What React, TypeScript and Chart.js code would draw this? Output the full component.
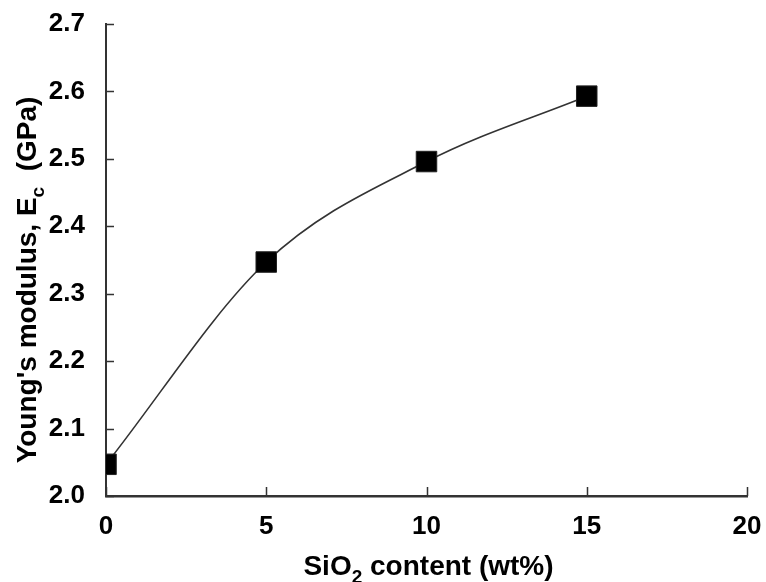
import React, { useEffect, useRef } from "react";
import { Chart, registerables } from "chart.js";

Chart.register(...registerables);

const siO2Content = [0, 5, 10, 15];
const youngsModulus = [2.047, 2.347, 2.496, 2.593];
const xTickValues = [0, 5, 10, 15, 20];
const yTickValues = [2.0, 2.1, 2.2, 2.3, 2.4, 2.5, 2.6, 2.7];
const xTitle = [
  { text: "SiO", sub: false },
  { text: "2", sub: true },
  { text: " content (wt%)", sub: false },
];
const yTitle = [
  { text: "Young's modulus, E", sub: false },
  { text: "c", sub: true },
  { text: "  (GPa)", sub: false },
];

const FONT_FAMILY = '"Liberation Sans", Arial, sans-serif';
const AXIS_COLOR = "#333";

type Seg = { text: string; sub: boolean };

function drawRich(ctx: CanvasRenderingContext2D, segs: Seg[], size: number) {
  const main = `bold ${size}px ${FONT_FAMILY}`;
  const small = `bold ${Math.round(size * 0.68)}px ${FONT_FAMILY}`;
  let total = 0;
  for (const s of segs) {
    ctx.font = s.sub ? small : main;
    total += ctx.measureText(s.text).width;
  }
  let x = -total / 2;
  ctx.textAlign = "left";
  ctx.textBaseline = "alphabetic";
  ctx.fillStyle = "#000";
  for (const s of segs) {
    ctx.font = s.sub ? small : main;
    ctx.fillText(s.text, x, s.sub ? size * 0.28 : 0);
    x += ctx.measureText(s.text).width;
  }
}

const decorPlugin = {
  id: "decor",
  afterDraw(chart: any) {
    const { ctx, chartArea, scales } = chart;
    const { left, right, bottom } = chartArea;
    ctx.save();
    ctx.strokeStyle = AXIS_COLOR;
    ctx.lineWidth = 1.5;
    ctx.beginPath();
    for (const v of yTickValues) {
      const y = Math.round(scales.y.getPixelForValue(v)) + 0.5;
      ctx.moveTo(left, y);
      ctx.lineTo(left + 8, y);
    }
    for (const v of xTickValues) {
      const x = Math.round(scales.x.getPixelForValue(v)) + 0.5;
      ctx.moveTo(x, bottom);
      ctx.lineTo(x, bottom - 9);
    }
    ctx.stroke();

    ctx.save();
    ctx.translate((left + right) / 2 + 2, 575);
    drawRich(ctx, xTitle, 28);
    ctx.restore();

    ctx.save();
    ctx.translate(36, 280);
    ctx.rotate(-Math.PI / 2);
    drawRich(ctx, yTitle, 28);
    ctx.restore();
    ctx.restore();
  },
};

export default function App() {
  const ref = useRef<HTMLCanvasElement | null>(null);
  useEffect(() => {
    if (!ref.current) return;
    const chart = new Chart(ref.current, {
      type: "line",
      data: {
        datasets: [
          {
            data: siO2Content.map((x, i) => ({ x, y: youngsModulus[i] })),
            borderColor: "#333",
            borderWidth: 1.6,
            cubicInterpolationMode: "monotone",
            pointStyle: "rect",
            pointRadius: 14.5,
            pointBackgroundColor: "#000",
            pointBorderColor: "#222",
            pointBorderWidth: 1,
            clip: { left: 0, top: false, right: false, bottom: false } as any,
          },
        ],
      },
      options: {
        animation: false,
        responsive: true,
        maintainAspectRatio: false,
        layout: { padding: { top: 24, right: 19, left: 0, bottom: 0 } },
        plugins: { legend: { display: false }, tooltip: { enabled: false } },
        scales: {
          x: {
            type: "linear",
            min: 0,
            max: 20,
            afterBuildTicks: (s: any) => {
              s.ticks = xTickValues.map((v) => ({ value: v }));
            },
            afterFit: (s: any) => {
              s.height = 86;
              s.paddingLeft = 0;
              s.paddingRight = 0;
            },
            grid: { display: false },
            border: { display: true, color: AXIS_COLOR, width: 2.5 },
            ticks: {
              color: "#000",
              padding: 7,
              font: { family: FONT_FAMILY, size: 26, weight: "bold" },
            },
          },
          y: {
            type: "linear",
            min: 2.0,
            max: 2.7,
            afterBuildTicks: (s: any) => {
              s.ticks = yTickValues.map((v) => ({ value: v }));
            },
            afterFit: (s: any) => {
              s.width = 106;
              s.paddingTop = 0;
              s.paddingBottom = 0;
            },
            grid: { display: false },
            border: { display: true, color: AXIS_COLOR, width: 2 },
            ticks: {
              color: "#000",
              padding: 13,
              font: { family: FONT_FAMILY, size: 26, weight: "bold" },
              callback: (v: any) => Number(v).toFixed(1),
            },
          },
        },
      },
      plugins: [decorPlugin],
    } as any);
    return () => chart.destroy();
  }, []);
  return (
    <div style={{ position: "absolute", left: 0, top: 0, width: 766, height: 582 }}>
      <canvas ref={ref} />
    </div>
  );
}
